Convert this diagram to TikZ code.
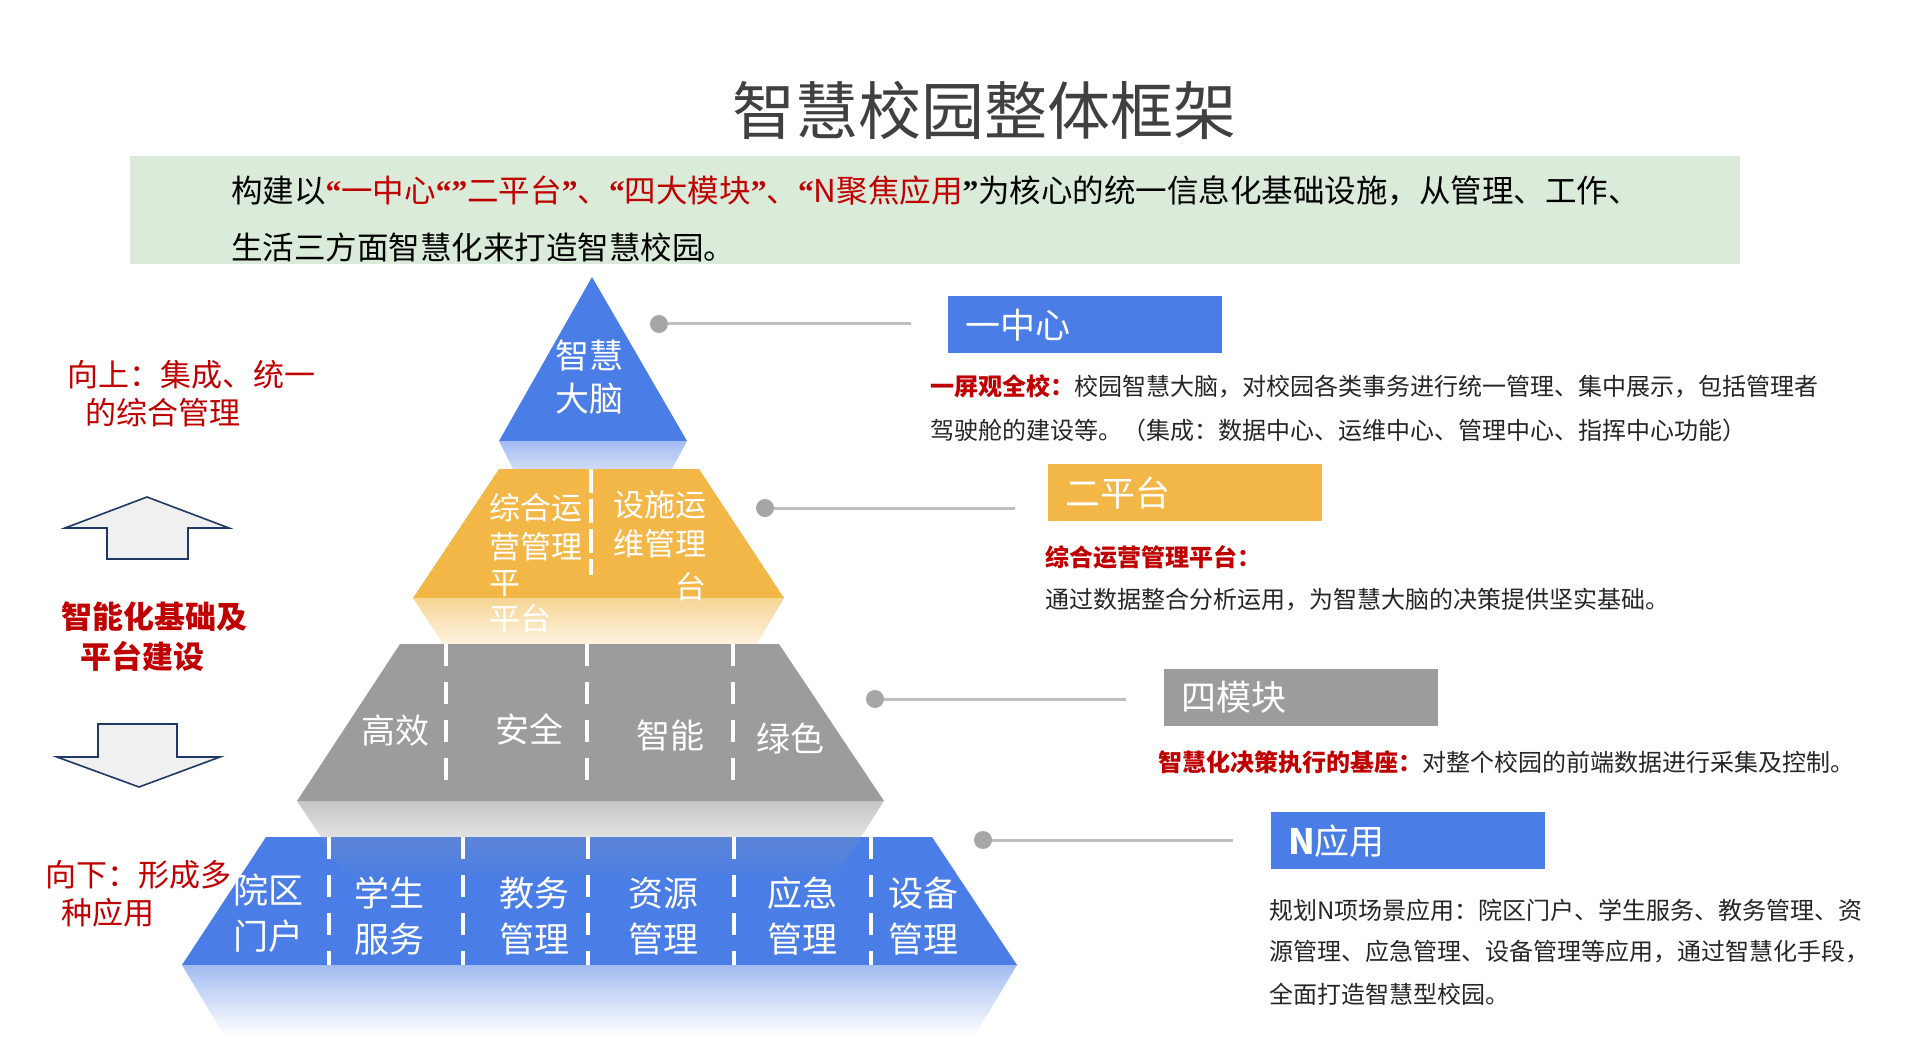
\documentclass[tikz,border=0pt]{standalone}
\usepackage{fontspec}
\setmainfont{Noto Sans CJK SC}
\newfontfamily\myqfont{Liberation Serif}
\newcommand{\myqo}{{\myqfont\bfseries “}}
\newcommand{\myqc}{{\myqfont\bfseries ”}}
\definecolor{cblue}{HTML}{4A7EE6}
\definecolor{cblueL}{HTML}{A2BCF1}
\definecolor{cblueLL}{HTML}{CFDCF8}
\definecolor{corange}{HTML}{F2B746}
\definecolor{corangeL}{HTML}{F6D594}
\definecolor{corangeLL}{HTML}{FDF3E0}
\definecolor{cgray}{HTML}{9C9C9C}
\definecolor{cgrayL}{HTML}{C6C6C6}
\definecolor{cgrayLL}{HTML}{E2E2E2}
\definecolor{cgreen}{HTML}{DAEBD9}
\definecolor{cred}{HTML}{C00000}
\definecolor{ctitle}{HTML}{404040}
\definecolor{cdot}{HTML}{A6A6A6}
\definecolor{cline}{HTML}{BFBFBF}
\definecolor{cnavy}{HTML}{1F3864}
\definecolor{carrow}{HTML}{F0F0F0}
\definecolor{ctext}{HTML}{262626}
\begin{document}
\begin{tikzpicture}[x=1pt,y=-1pt,
  dashline/.style={white, line width=4pt, dash pattern=on 22pt off 16pt},
  wlabel/.style={text=white, inner sep=0, align=center},
  dot/.style={circle, fill=cdot, minimum size=18pt, inner sep=0},
  conn/.style={cline, line width=3pt},
  headbox/.style={anchor=north west, minimum width=274pt, minimum height=57pt, text width=240pt, inner xsep=17pt, inner ysep=0, align=left, text=white, font=\fontsize{35}{35}\selectfont},
  desc/.style={anchor=west, inner sep=0, font=\fontsize{24}{24}\selectfont, text=ctext},
  redann/.style={anchor=west, inner sep=0, text=cred, font=\fontsize{31}{31}\selectfont},
  arrowshape/.style={fill=carrow, draw=cnavy, line width=1.6pt, line join=miter},
  intro/.style={anchor=west, inner sep=0, font=\fontsize{31.5}{31.5}\selectfont, text=black}
]
\useasboundingbox (0,0) rectangle (1910,1064);
\fill[white] (0,0) rectangle (1910,1064);

% title and intro
\node[inner sep=0, text=ctitle, font=\fontsize{63}{63}\selectfont] (title) at (984,110) {智慧校园整体框架};
\fill[cgreen] (130,156) rectangle (1740,264);
\node[intro] (intro1) at (231,191) {构建以{\color{cred}\myqo 一中心\myqo\myqc 二平台\myqc、\myqo 四大模块\myqc、\myqo N聚焦应用}\myqc 为核心的统一信息化基础设施，从管理、工作、};
\node[intro] (intro2) at (231,247) {生活三方面智慧化来打造智慧校园。};

% pyramid: top triangle
\fill[cblue] (592,277) -- (687,441) -- (499,441) -- cycle;
\shade[top color=cblueL, bottom color=cblueLL] (499,441) -- (687,441) -- (672,469) -- (513,469) -- cycle;
\node[wlabel, font=\fontsize{34}{43}\selectfont] (brain) at (589,377) {智慧\\大脑};

% orange tier
\fill[corange] (499,469) -- (699,469) -- (784,598) -- (413,598) -- cycle;
\shade[top color=corangeL, bottom color=corangeLL] (413,598) -- (784,598) -- (757,644) -- (443,644) -- cycle;
\draw[white, line width=4pt, dash pattern=on 24pt off 6pt] (591,469) -- (591,575);
\node[wlabel, anchor=west, font=\fontsize{31}{31}\selectfont] (o1) at (489,508) {综合运};
\node[wlabel, anchor=west, font=\fontsize{31}{31}\selectfont] (o2) at (489,547) {营管理};
\node[wlabel, anchor=west, font=\fontsize{31}{31}\selectfont] (o3) at (489,584) {平};
\node[wlabel, anchor=west, font=\fontsize{31}{31}\selectfont] (o4) at (489,619) {平台};
\node[wlabel, anchor=west, font=\fontsize{31}{31}\selectfont] (o5) at (613,505) {设施运};
\node[wlabel, anchor=west, font=\fontsize{31}{31}\selectfont] (o6) at (613,544) {维管理};
\node[wlabel, anchor=west, font=\fontsize{31}{31}\selectfont] (o7) at (675,587) {台};

% gray tier
\fill[cgray] (400,644) -- (779,644) -- (884,801) -- (297,801) -- cycle;
\shade[top color=cgrayL, bottom color=cgrayLL] (297,801) -- (884,801) -- (861,837) -- (321,837) -- cycle;
\foreach \xx in {446,587,733} \draw[dashline] (\xx,644) -- (\xx,796);
\node[wlabel, font=\fontsize{34}{34}\selectfont] (g1) at (395,731) {高效};
\node[wlabel, font=\fontsize{34}{34}\selectfont] (g2) at (529,729) {安全};
\node[wlabel, font=\fontsize{34}{34}\selectfont] (g3) at (670,736) {智能};
\node[wlabel, font=\fontsize{34}{34}\selectfont] (g4) at (790,738) {绿色};

% blue tier
\fill[cblue] (266,837) -- (932,837) -- (1017,965) -- (182,965) -- cycle;
\shade[top color=cblue!78!cgray, bottom color=cblue] (321,837) -- (861,837) -- (834,880) -- (348,880) -- cycle;
\shade[top color=cblueL, bottom color=white] (182,965) -- (1017,965) -- (975,1035) -- (224,1035) -- cycle;
\foreach \xx in {329,463,588,734,871} \draw[dashline] (\xx,837) -- (\xx,965);
\node[wlabel, font=\fontsize{35}{46}\selectfont] (n1) at (268,913) {院区\\门户};
\node[wlabel, font=\fontsize{35}{46}\selectfont] (n2) at (389,916) {学生\\服务};
\node[wlabel, font=\fontsize{35}{46}\selectfont] (n3) at (534,916) {教务\\管理};
\node[wlabel, font=\fontsize{35}{46}\selectfont] (n4) at (663,916) {资源\\管理};
\node[wlabel, font=\fontsize{35}{46}\selectfont] (n5) at (802,916) {应急\\管理};
\node[wlabel, font=\fontsize{35}{46}\selectfont] (n6) at (923,916) {设备\\管理};

% left annotations
\node[redann] (up1) at (67,375) {向上：集成、统一};
\node[redann] (up2) at (85,413) {的综合管理};
\draw[arrowshape] (147,497) -- (229,528) -- (188,528) -- (188,559) -- (107,559) -- (107,528) -- (65,528) -- cycle;
\node[redann, font=\bfseries\fontsize{31}{31}\selectfont] (mid1) at (61,617) {智能化基础及};
\node[redann, font=\bfseries\fontsize{31}{31}\selectfont] (mid2) at (80,656) {平台建设};
\draw[arrowshape] (98,724) -- (177,724) -- (177,757) -- (220,757) -- (139,787) -- (57,757) -- (98,757) -- cycle;
\node[redann] (dn1) at (45,875) {向下：形成多};
\node[redann] (dn2) at (61,913) {种应用};

% connectors
\node[dot] (d1) at (659,324) {};
\coordinate (e1) at (911,324);
\draw[conn] (d1) -- (e1);
\node[dot] (d2) at (765,508) {};
\coordinate (e2) at (1015,508);
\draw[conn] (d2) -- (e2);
\node[dot] (d3) at (875,699) {};
\coordinate (e3) at (1126,699);
\draw[conn] (d3) -- (e3);
\node[dot] (d4) at (983,840) {};
\coordinate (e4) at (1233,840);
\draw[conn] (d4) -- (e4);

% header boxes
\node[headbox, fill=cblue] (h1) at (948,296) {一中心};
\node[headbox, fill=corange] (h2) at (1048,464) {二平台};
\node[headbox, fill=cgray] (h3) at (1164,669) {四模块};
\node[headbox, fill=cblue] (h4) at (1271,812) {\textbf{N}应用};

% descriptions
\node[desc] (t1a) at (930,386) {{\color{cred}\bfseries 一屏观全校：}校园智慧大脑，对校园各类事务进行统一管理、集中展示，包括管理者};
\node[desc] (t1b) at (930,430) {驾驶舱的建设等。（集成：数据中心、运维中心、管理中心、指挥中心功能）};
\node[desc, text=cred, font=\bfseries\fontsize{24}{24}\selectfont] (t2a) at (1045,557) {综合运营管理平台：};
\node[desc] (t2b) at (1045,600) {通过数据整合分析运用，为智慧大脑的决策提供坚实基础。};
\node[desc] (t3) at (1158,762) {{\color{cred}\bfseries 智慧化决策执行的基座：}对整个校园的前端数据进行采集及控制。};
\node[desc] (t4a) at (1269,910) {规划N项场景应用：院区门户、学生服务、教务管理、资};
\node[desc] (t4b) at (1269,952) {源管理、应急管理、设备管理等应用，通过智慧化手段，};
\node[desc] (t4c) at (1269,994) {全面打造智慧型校园。};
\end{tikzpicture}
\end{document}
